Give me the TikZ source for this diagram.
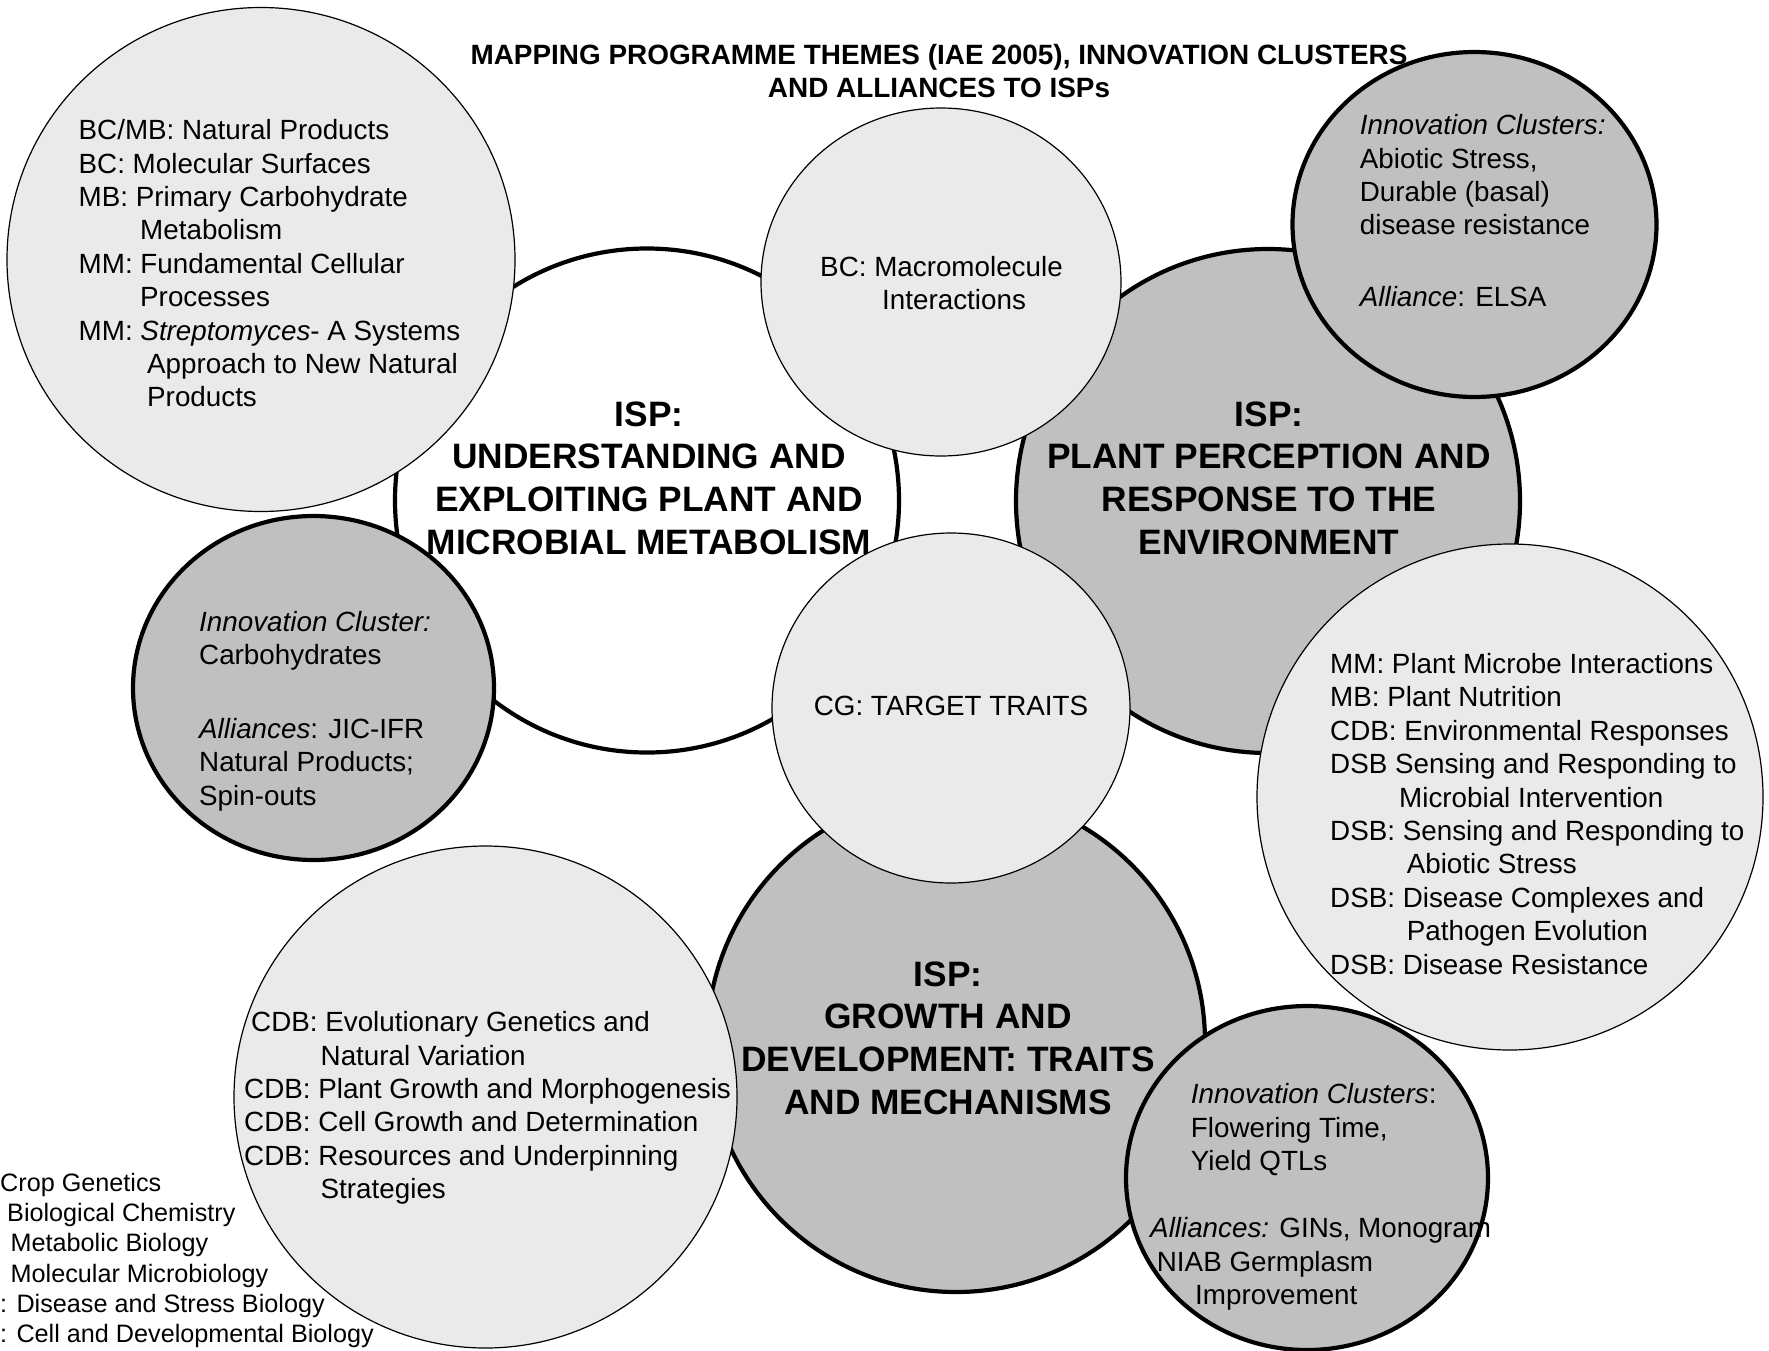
\documentclass[tikz,border=0pt]{standalone}
\usepackage{fontspec}
\setmainfont{Liberation Sans}
\usetikzlibrary{shapes.geometric}
\definecolor{lightc}{RGB}{234,234,234}
\definecolor{midc}{RGB}{192,192,192}
\begin{document}
\begin{tikzpicture}[x=1pt,y=-1pt,
  thickc/.style={ellipse, draw=black, line width=4.2pt, inner sep=0pt, outer sep=0pt},
  thinc/.style={ellipse, draw=black, line width=1.2pt, inner sep=0pt, outer sep=0pt, fill=lightc},
  bodytxt/.style={anchor=base west, inner sep=0pt, font=\fontsize{27.8}{33.4}\selectfont},
  isptxt/.style={anchor=base, inner sep=0pt, font=\fontsize{35.3}{42.8}\selectfont\bfseries},
  titletxt/.style={anchor=base, inner sep=0pt, font=\fontsize{27.9}{33}\selectfont\bfseries},
  legtxt/.style={anchor=base west, inner sep=0pt, font=\fontsize{25.2}{30.3}\selectfont}]
\useasboundingbox (0,0) rectangle (1769,1350);
\fill[white] (0,0) rectangle (1769,1350);

% ISP: plant perception
\node[thickc, fill=midc, minimum width=504pt, minimum height=504pt] (plant) at (1268,501) {};
\node[isptxt] (planttext) at (1269,426) {\begin{tabular}[t]{@{}c@{}}ISP:\\PLANT PERCEPTION AND\\RESPONSE TO THE\\ENVIRONMENT\end{tabular}};

% ISP: understanding
\node[thickc, fill=white, minimum width=504pt, minimum height=504pt] (und) at (647,500.5) {};
\node[isptxt] (undtext) at (649,426) {\begin{tabular}[t]{@{}c@{}}ISP:\\UNDERSTANDING AND\\EXPLOITING PLANT AND\\MICROBIAL METABOLISM\end{tabular}};

% ISP: growth
\node[thickc, fill=midc, minimum width=498pt, minimum height=500pt] (grow) at (956,1042) {};
\node[isptxt] (growtext) at (948,986) {\begin{tabular}[t]{@{}c@{}}ISP:\\GROWTH AND\\DEVELOPMENT: TRAITS\\AND MECHANISMS\end{tabular}};

% top-left list
\node[thinc, minimum width=508pt, minimum height=504pt] (tl) at (261,259.5) {};
\node[bodytxt] (tltext) at (78.5,139.7) {\begin{tabular}[t]{@{}l@{}}
BC/MB: Natural Products\\
BC: Molecular Surfaces\\
MB: Primary Carbohydrate\\
\hspace*{61.5pt}Metabolism\\
MM: Fundamental Cellular\\
\hspace*{61.5pt}Processes\\
MM: \textit{Streptomyces}- A Systems\\
\hspace*{68.5pt}Approach to New Natural\\
\hspace*{68.5pt}Products
\end{tabular}};

% left innovation cluster
\node[thickc, fill=midc, minimum width=361pt, minimum height=344pt] (linn) at (313.5,688) {};
\node[bodytxt] (linntext) at (199,631.4) {\begin{tabular}[t]{@{}l@{}}
\textit{Innovation Cluster:}\\
Carbohydrates\\[40pt]
\textit{Alliances}: JIC-IFR\\
Natural Products;\\
Spin-outs
\end{tabular}};

% top-right innovation cluster
\node[thickc, fill=midc, minimum width=364pt, minimum height=345pt] (trinn) at (1474.5,224.5) {};
\node[bodytxt] (trinntext) at (1359.7,134.7) {\begin{tabular}[t]{@{}l@{}}
\textit{Innovation Clusters:}\\
Abiotic Stress,\\
Durable (basal)\\
disease resistance\\[38.6pt]
\textit{Alliance}: ELSA
\end{tabular}};

% bottom-right list
\node[thinc, minimum width=506pt, minimum height=506pt] (brl) at (1510,797) {};
\node[bodytxt] (brltext) at (1330,673.4) {\begin{tabular}[t]{@{}l@{}}
MM: Plant Microbe Interactions\\
MB: Plant Nutrition\\
CDB: Environmental Responses\\
DSB Sensing and Responding to\\
\hspace*{69pt}Microbial Intervention\\
DSB: Sensing and Responding to\\
\hspace*{76.6pt}Abiotic Stress\\
DSB: Disease Complexes and\\
\hspace*{76.6pt}Pathogen Evolution\\
DSB: Disease Resistance
\end{tabular}};

% bottom-left CDB list
\node[thinc, minimum width=503pt, minimum height=502pt] (cdb) at (485.5,1097) {};
\node[bodytxt] (cdbtext) at (244,1031.7) {\begin{tabular}[t]{@{}l@{}}
\hspace*{7pt}CDB: Evolutionary Genetics and\\
\hspace*{76.5pt}Natural Variation\\
CDB: Plant Growth and Morphogenesis\\
CDB: Cell Growth and Determination\\
CDB: Resources and Underpinning\\
\hspace*{76.5pt}Strategies
\end{tabular}};

% bottom-right innovation cluster
\node[thickc, fill=midc, minimum width=362pt, minimum height=344pt] (brinn) at (1307,1178) {};
\node[bodytxt] (brinntext) at (1150,1103.7) {\begin{tabular}[t]{@{}l@{}}
\hspace*{40.7pt}\textit{Innovation Clusters}:\\
\hspace*{40.7pt}Flowering Time,\\
\hspace*{40.7pt}Yield QTLs\\[34pt]
\textit{Alliances:} GINs, Monogram\\
\hspace*{6.7pt}NIAB Germplasm\\
\hspace*{45pt}Improvement
\end{tabular}};

% BC macromolecule
\node[thinc, minimum width=360pt, minimum height=348pt] (bc) at (941,282) {};
\node[bodytxt] (bctext) at (820,276.4) {\begin{tabular}[t]{@{}l@{}}
BC: Macromolecule\\
\hspace*{62pt}Interactions
\end{tabular}};

% CG target traits
\node[thinc, minimum width=358pt, minimum height=350pt] (cg) at (951,708) {};
\node[bodytxt, anchor=base] (cgtext) at (951,715) {CG: TARGET TRAITS};

% title
\node[titletxt] (title) at (939,64) {\begin{tabular}[t]{@{}c@{}}MAPPING PROGRAMME THEMES (IAE 2005), INNOVATION CLUSTERS\\AND ALLIANCES TO ISPs\end{tabular}};

% legend
\node[legtxt] (legend) at (0,1191.3) {\begin{tabular}[t]{@{}l@{}}
Crop Genetics\\
\hspace*{7pt}Biological Chemistry\\
\hspace*{10.5pt}Metabolic Biology\\
\hspace*{10.5pt}Molecular Microbiology\\
: Disease and Stress Biology\\
: Cell and Developmental Biology
\end{tabular}};
\end{tikzpicture}
\end{document}
